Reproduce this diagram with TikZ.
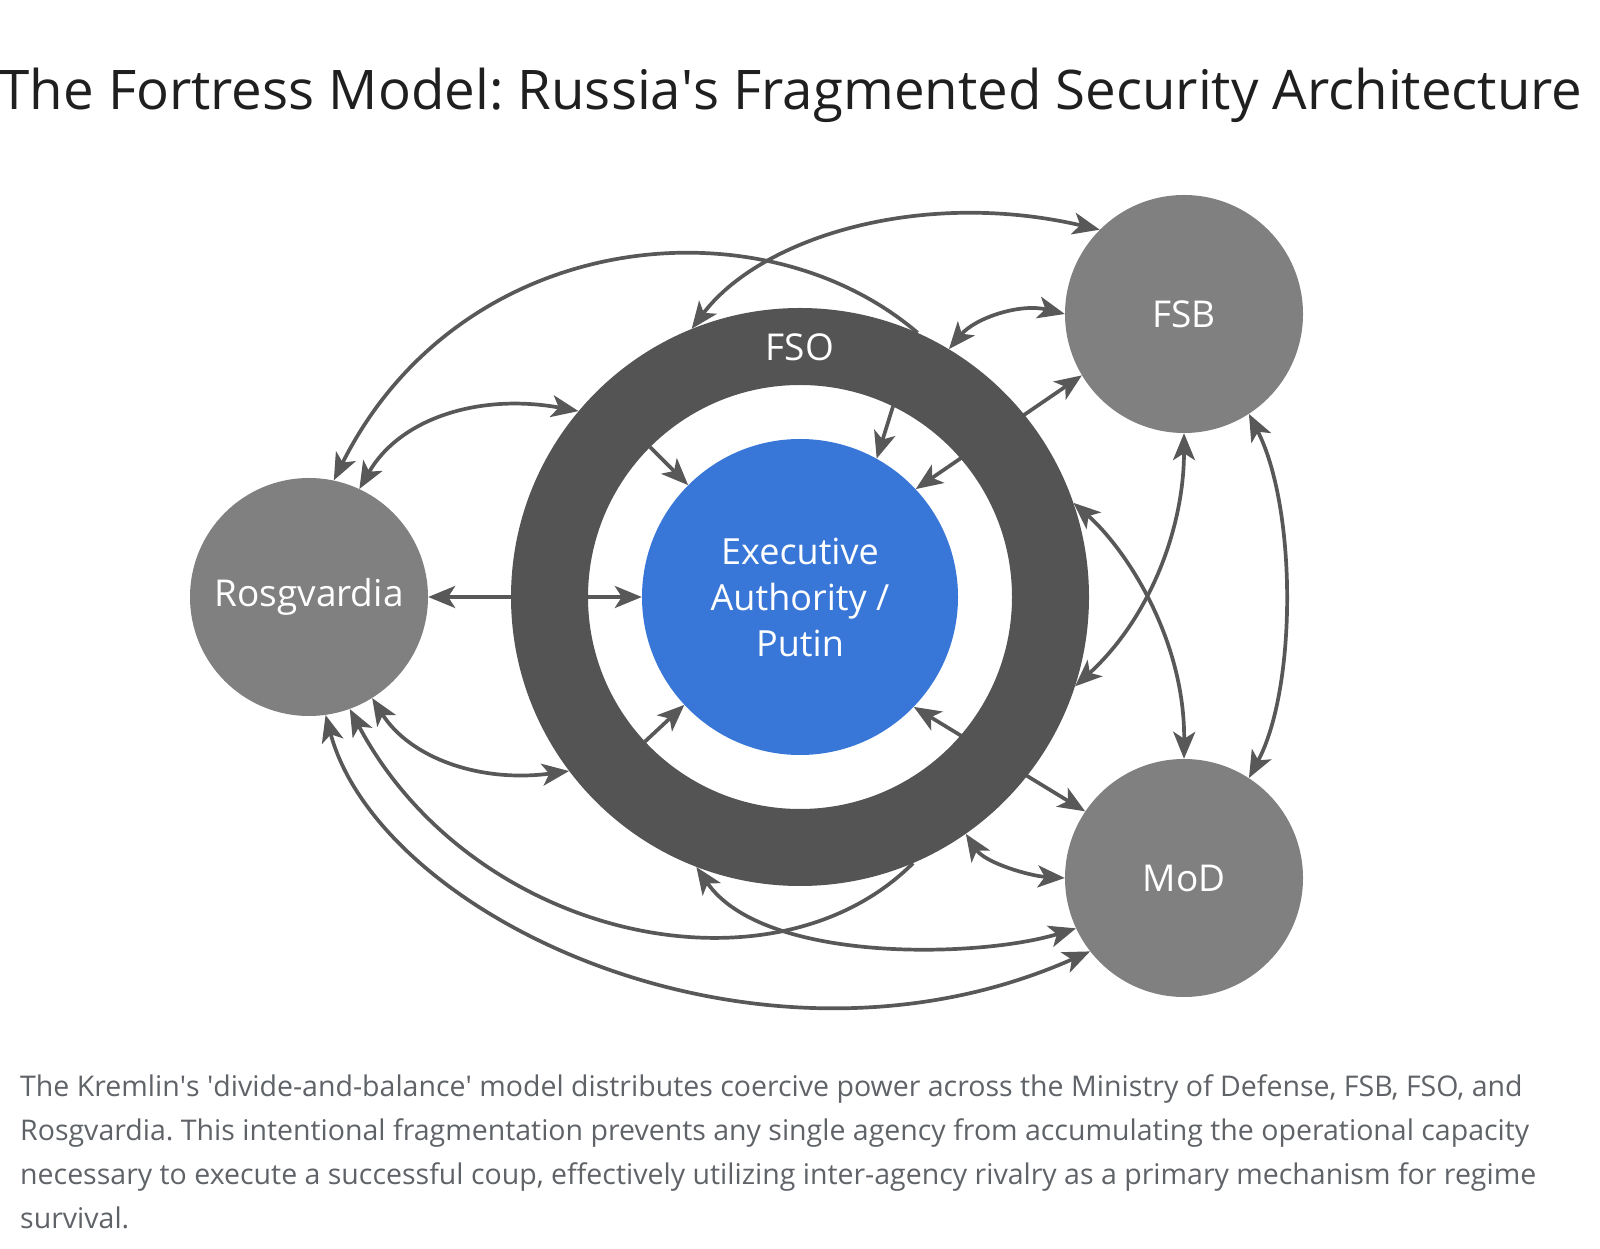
\documentclass[tikz,border=0pt]{standalone}
\usepackage{fontspec}
\setmainfont{Open Sans}
\usetikzlibrary{arrows.meta}
\definecolor{execblue}{RGB}{56,119,216}
\definecolor{ringgray}{RGB}{84,84,84}
\definecolor{agencygray}{RGB}{128,128,128}
\definecolor{linkgray}{RGB}{88,88,88}
\definecolor{titleblack}{RGB}{31,31,31}
\definecolor{notegray}{RGB}{95,99,104}
\frenchspacing
\begin{document}
\begin{tikzpicture}[x=1pt,y=1pt,
    >={Stealth[length=27pt,width=22pt,inset=7pt]},
    agency/.style={circle,fill=agencygray,minimum size=238pt,inner sep=0pt,
      text=white,font=\fontsize{37}{44}\selectfont},
    ringmark/.style={circle,minimum size=#1,inner sep=0pt},
    link/.style={draw=linkgray,line width=3.7pt}]
  \useasboundingbox (0,0) rectangle (1600,1248);

  \node[anchor=base,text=titleblack,font=\fontsize{54.6}{64}\selectfont] (title) at (791,1138)
    {The Fortress Model: Russia\textquotesingle s Fragmented Security Architecture};

  \node[agency] (rosg) at (309,651) {Rosgvardia};
  \node[agency] (fsb) at (1184,934) {FSB};
  \node[agency] (mod) at (1184,370) {MoD};
  \node[ringmark=578pt] (fso) at (800,651) {};
  \node[ringmark=424pt] (fsoin) at (800,651) {};
  \node[circle,fill=execblue,minimum size=316pt,inner sep=0pt,text=white,align=center,
    font=\fontsize{36}{46}\selectfont] (exec) at (800,651) {Executive\\Authority /\\Putin};

  \draw[link,<->] (exec.180) -- (rosg.0);
  \draw[link,<->] (exec.43) -- (fsb.211);
  \draw[link,<->] (exec.-44) -- (mod.146);
  \draw[link,<-] (rosg.78) .. controls (460,1020) and (760,1050) .. (fso.66);
  \draw[link,<-] (rosg.-70) .. controls (472,309) and (772,244) .. (fso.-67);

  \fill[ringgray,even odd rule] (fso.center) circle (289pt) circle (212pt);
  \node[text=white,font=\fontsize{37}{44}\selectfont] (fsolabel) at (800,901) {FSO};

  \draw[link,->] (fsoin.135) -- (exec.135);
  \draw[link,->] (fsoin.64) -- (exec.61);
  \draw[link,->] (fsoin.223) -- (exec.223);

  \draw[link,<->] (fso.59) .. controls (975,930) and (1020,945) .. (fsb.180);
  \draw[link,<->] (fso.112) .. controls (760,1010) and (920,1060) .. (fsb.135);
  \draw[link,<->] (rosg.65) .. controls (400,830) and (480,855) .. (fso.140);
  \draw[link,<->] (rosg.-58) .. controls (410,490) and (480,465) .. (fso.217);
  \draw[link,<->] (fso.-55) .. controls (985,385) and (1030,372) .. (mod.180);
  \draw[link,<->] (fso.19) .. controls (1125,700) and (1185,610) .. (mod.90);
  \draw[link,<->] (fsb.270) .. controls (1184,720) and (1150,630) .. (fso.-18);
  \draw[link,<->] (fsb.-57) .. controls (1297,740) and (1297,560) .. (mod.57);
  \draw[link,<->] (rosg.-82) .. controls (380,330) and (760,150) .. (mod.218);
  \draw[link,<->] (fso.-111.6) .. controls (763,284) and (980,290) .. (mod.205);

  \node[anchor=north west,inner sep=0pt,align=left,text=notegray,
    font=\fontsize{28.5}{44}\selectfont] (note) at (20,174)
    {The Kremlin\textquotesingle s \textquotesingle divide-and-balance\textquotesingle{} model distributes coercive power across the Ministry of Defense, FSB, FSO, and\\
     Rosgvardia. This intentional fragmentation prevents any single agency from accumulating the operational capacity\\
     necessary to execute a successful coup, effectively utilizing inter-agency rivalry as a primary mechanism for regime\\
     survival.};
\end{tikzpicture}
\end{document}
